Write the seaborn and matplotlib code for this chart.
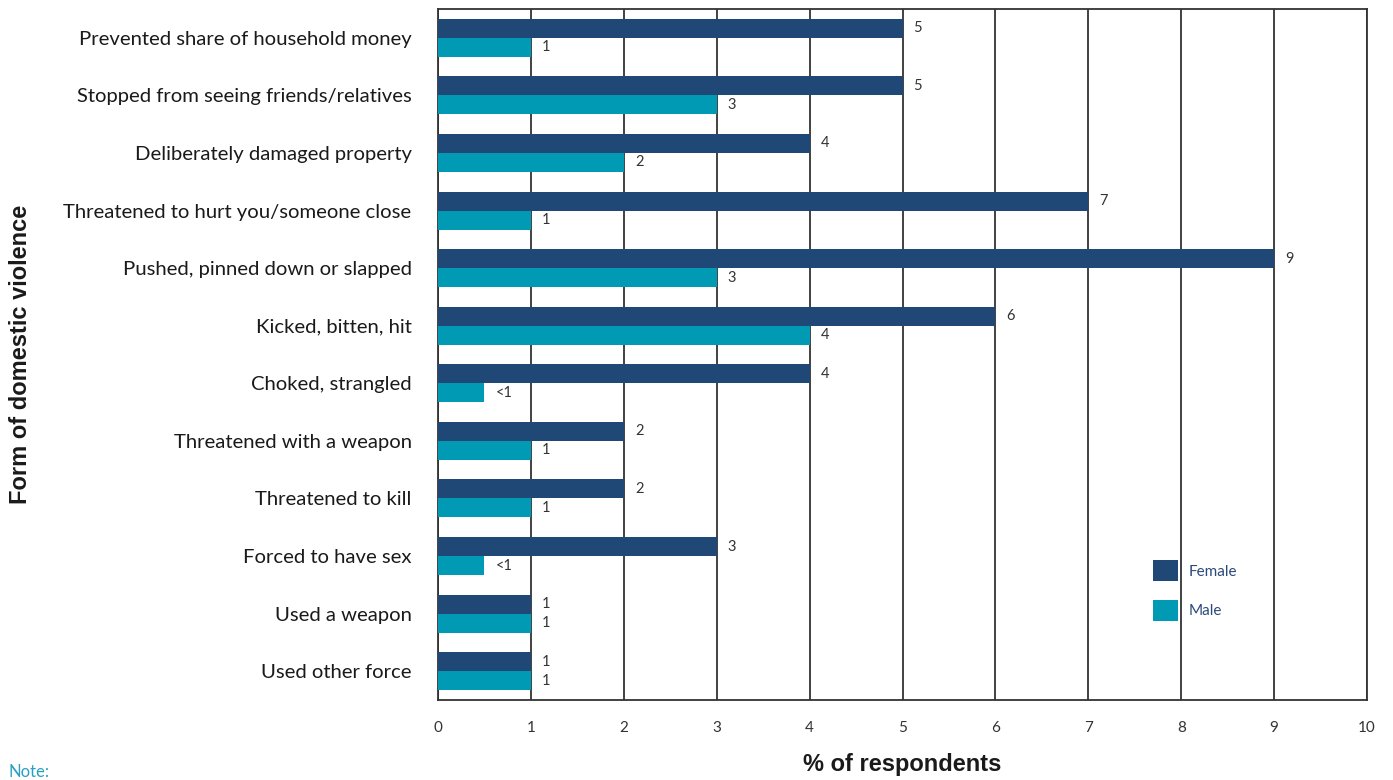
import numpy as np
import pandas as pd
import seaborn as sns
import matplotlib
matplotlib.use("Agg")
import matplotlib.pyplot as plt

categories = [
    "Prevented share of household money",
    "Stopped from seeing friends/relatives",
    "Deliberately damaged property",
    "Threatened to hurt you/someone close",
    "Pushed, pinned down or slapped",
    "Kicked, bitten, hit",
    "Choked, strangled",
    "Threatened with a weapon",
    "Threatened to kill",
    "Forced to have sex",
    "Used a weapon",
    "Used other force",
]
female = [5, 5, 4, 7, 9, 6, 4, 2, 2, 3, 1, 1]
male = [1, 3, 2, 1, 3, 4, 0.5, 1, 1, 0.5, 1, 1]
female_labels = ["5", "5", "4", "7", "9", "6", "4", "2", "2", "3", "1", "1"]
male_labels = ["1", "3", "2", "1", "3", "4", "<1", "1", "1", "<1", "1", "1"]
x_ticks = list(range(0, 11))

df = pd.DataFrame({
    "Form": categories * 2,
    "Value": female + male,
    "Sex": ["Female"] * len(categories) + ["Male"] * len(categories),
})

sns.set_style("white")
plt.rcParams["font.family"] = ["Lato", "DejaVu Sans"]

fig = plt.figure(figsize=(13.93, 7.80), dpi=100)
ax = fig.add_axes([438 / 1393, 1 - 700 / 780, (1367 - 438) / 1393, (700 - 9) / 780])

navy = "#1f4876"
teal = "#009ab5"
sns.barplot(data=df, y="Form", x="Value", hue="Sex", orient="h",
            palette={"Female": navy, "Male": teal}, width=0.66,
            saturation=1, ax=ax, order=categories, hue_order=["Female", "Male"],
            errorbar=None, linewidth=0, zorder=3)

ax.set_xlim(0, 10)
ax.set_xticks(x_ticks)
ax.set_xticklabels([str(t) for t in x_ticks], fontsize=11, color="#333333")
ax.xaxis.grid(True, color="#333333", linewidth=1.3, zorder=0)
ax.set_axisbelow(True)
ax.tick_params(axis="x", direction="out", length=10, width=1.3, color="#444444", pad=5)

ax.set_yticks(range(len(categories)))
ax.set_yticklabels(categories, fontsize=14.6, color="#1a1a1a")
ax.tick_params(axis="y", which="major", length=0, pad=19)
ax.set_yticks(np.arange(-0.5, len(categories) + 0.5, 1), minor=True)
ax.tick_params(axis="y", which="minor", direction="out", length=10, width=1.3, color="#444444")
ax.set_ylim(len(categories) - 0.5, -0.5)

for sp in ax.spines.values():
    sp.set_color("#333333")
    sp.set_linewidth(1.3)

for cont, labs in zip(ax.containers, [female_labels, male_labels]):
    ax.bar_label(cont, labels=labs, padding=8, fontsize=10.5, color="#333333")

ax.set_ylabel("")
ax.set_xlabel("")
fig.text(21 / 1393, 1 - 354 / 780, "Form of domestic violence", fontsize=17,
         fontweight="bold", family=["Liberation Sans", "DejaVu Sans"], color="#1a1a1a",
         rotation=90, ha="center", va="center")
fig.text(902 / 1393, 1 - 764 / 780, "% of respondents", fontsize=17,
         fontweight="bold", family=["Liberation Sans", "DejaVu Sans"], color="#1a1a1a",
         ha="center", va="center")

leg = ax.legend(loc="upper left", bbox_to_anchor=(0.755, 0.222), frameon=False,
                fontsize=11, labelcolor="#2b4a7a", handlelength=1.6, handleheight=1.75,
                labelspacing=1.2, handletextpad=0.7)

fig.text(8 / 1393, 1 - 772 / 780, "Note:", fontsize=12, color="#2aa0c0", va="center")

fig.savefig("out.png", dpi=100)
